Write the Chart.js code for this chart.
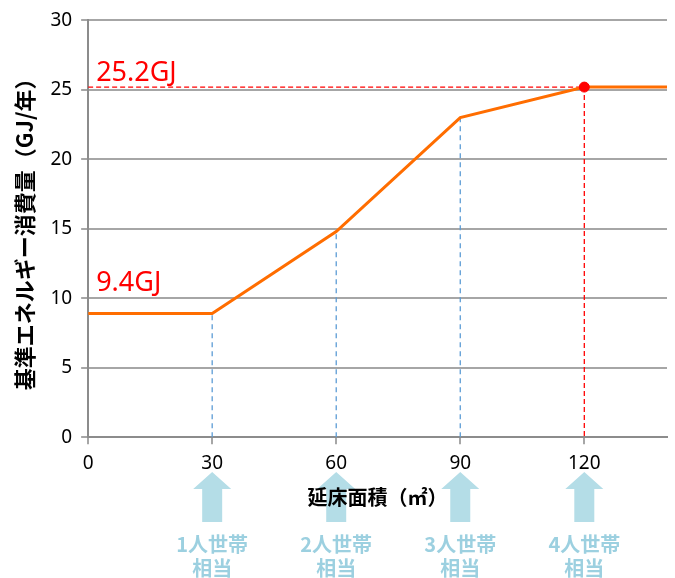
<!DOCTYPE html>
<html>
<head>
<meta charset="utf-8">
<script src="https://cdn.jsdelivr.net/npm/chart.js@4"></script>
<style>
  html, body { margin: 0; padding: 0; background: #fff; }
  #wrap { width: 675px; height: 578px; position: relative; }
</style>
</head>
<body>
<div id="wrap"><canvas id="energyChart"></canvas></div>
<script>
// floor area (m2) vs standard energy consumption (GJ/year)
const areas = [0, 30, 60, 90, 120, 140];
const energy = [8.9, 8.9, 14.8, 23.0, 25.2, 25.2];
const xTicks = [0, 30, 60, 90, 120];
const yTicks = [0, 5, 10, 15, 20, 25, 30];
const householdAreas = [30, 60, 90, 120];
const householdLabels = ['1人世帯', '2人世帯', '3人世帯', '4人世帯'];
const targetArea = 120;
const targetValue = 25.2;
const baseLabelValue = 9.4;

const JP = '"Noto Sans CJK JP", "Noto Sans", sans-serif';
const NUM = '"Noto Sans", sans-serif';
const ORANGE = '#ff6d00';
const RED = '#ff0000';
const BLUE = '#5b9bd5';
const ARROW = '#b4dde7';

const lineData = areas.map((a, i) => ({ x: a, y: energy[i] }));

// dashed guides from each household area up to the line
const guides = householdAreas.filter(a => a !== targetArea).map(a => ({
    type: 'line',
    data: [{ x: a, y: 0 }, { x: a, y: energy[areas.indexOf(a)] }],
    borderColor: BLUE,
    borderWidth: 1.3,
    borderDash: [5, 4],
    pointRadius: 0,
    order: 3
}));

const annotate = {
    id: 'annotate',
    beforeDraw(chart) {
        const ctx = chart.ctx;
        const xs = chart.scales.x;
        ctx.save();
        ctx.fillStyle = ARROW;
        householdAreas.forEach(a => {
            const cx = xs.getPixelForValue(a);
            ctx.beginPath();
            ctx.moveTo(cx, 472);
            ctx.lineTo(cx + 19, 489);
            ctx.lineTo(cx + 10, 489);
            ctx.lineTo(cx + 10, 522);
            ctx.lineTo(cx - 10, 522);
            ctx.lineTo(cx - 10, 489);
            ctx.lineTo(cx - 19, 489);
            ctx.closePath();
            ctx.fill();
        });
        ctx.restore();
    },
    afterDraw(chart) {
        const ctx = chart.ctx;
        const xs = chart.scales.x;
        const ys = chart.scales.y;
        ctx.save();
        ctx.fillStyle = RED;
        ctx.font = '27px ' + NUM;
        ctx.textAlign = 'left';
        ctx.textBaseline = 'alphabetic';
        ctx.fillText(targetValue.toFixed(1) + 'GJ', xs.left + 8, ys.getPixelForValue(targetValue) - 6);
        ctx.fillText(baseLabelValue.toFixed(1) + 'GJ', xs.left + 8, ys.getPixelForValue(10.5));
        ctx.fillStyle = '#9cd0e0';
        ctx.font = 'bold 20px ' + JP;
        ctx.textAlign = 'center';
        ctx.textBaseline = 'middle';
        householdAreas.forEach((a, i) => {
            const cx = xs.getPixelForValue(a);
            ctx.fillText(householdLabels[i], cx, 544);
            ctx.fillText('相当', cx, 568);
        });
        ctx.restore();
    }
};

new Chart(document.getElementById('energyChart'), {
    type: 'line',
    data: {
        datasets: [
            {
                data: lineData,
                borderColor: ORANGE,
                borderWidth: 3,
                pointRadius: 0,
                tension: 0,
                order: 1
            },
            {
                data: [{ x: targetArea, y: targetValue }],
                borderColor: RED,
                backgroundColor: RED,
                pointRadius: 5,
                showLine: false,
                order: 0
            },
            {
                data: [{ x: 0, y: targetValue }, { x: targetArea, y: targetValue }, { x: targetArea, y: 0 }],
                borderColor: RED,
                borderWidth: 1.3,
                borderDash: [5, 3],
                pointRadius: 0,
                order: 2
            },
            ...guides
        ]
    },
    options: {
        responsive: true,
        maintainAspectRatio: false,
        animation: false,
        layout: { padding: { top: 10, right: 8, bottom: 69, left: 11 } },
        plugins: { legend: { display: false }, tooltip: { enabled: false } },
        scales: {
            x: {
                type: 'linear',
                min: 0,
                max: 140,
                afterBuildTicks: s => { s.ticks = xTicks.map(v => ({ value: v })); },
                grid: { drawOnChartArea: false, color: '#a6a6a6', tickLength: 7, lineWidth: 2 },
                border: { color: '#8c8c8c', width: 2 },
                ticks: { color: '#000', font: { size: 19, family: NUM }, padding: 8, maxRotation: 0 },
                title: {
                    display: true,
                    text: '延床面積（㎡）',
                    color: '#000',
                    font: { size: 20, weight: 'bold', family: JP },
                    padding: { top: 2, bottom: 0 }
                }
            },
            y: {
                min: 0,
                max: 30,
                afterBuildTicks: s => { s.ticks = yTicks.map(v => ({ value: v })); },
                grid: { color: '#a6a6a6', lineWidth: 2, tickLength: 7 },
                border: { color: '#8c8c8c', width: 2 },
                ticks: { color: '#000', font: { size: 19, family: NUM }, padding: 9 },
                title: {
                    display: true,
                    text: '基準エネルギー消費量（GJ/年）',
                    color: '#000',
                    font: { size: 22, weight: 'bold', family: JP },
                    padding: { top: 0, bottom: 4 }
                }
            }
        }
    },
    plugins: [annotate]
});
</script>
</body>
</html>
